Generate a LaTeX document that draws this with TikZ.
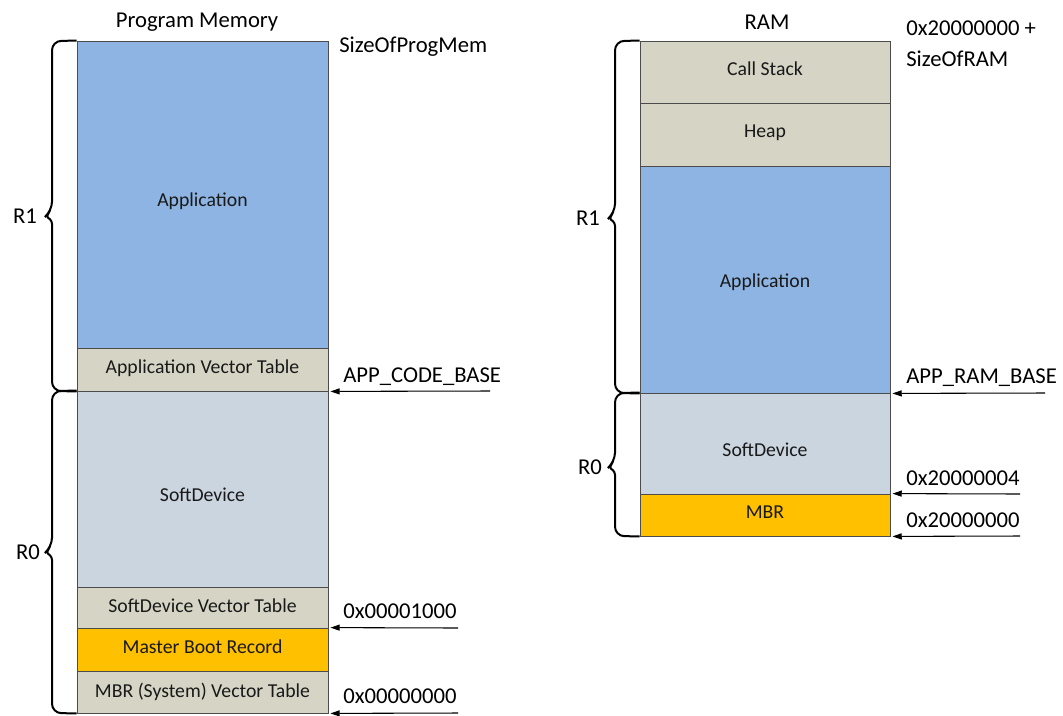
\documentclass[tikz,border=0pt]{standalone}
\usepackage{fontspec}
\setmainfont{Carlito}
\usetikzlibrary{arrows.meta,calc}
\definecolor{appblue}{HTML}{8DB4E2}
\definecolor{tan}{HTML}{D6D5C5}
\definecolor{sdgrey}{HTML}{CBD5E0}
\definecolor{mbrorange}{HTML}{FFC000}
\tikzset{
  mem/.style={draw=black!70, line width=0.6pt, inner sep=0pt},
  memtxt/.style={font=\fontsize{14.8}{16}\selectfont, text=black!90, inner sep=0pt, anchor=base},
  lbl/.style={font=\fontsize{17}{19}\selectfont, inner sep=0pt, anchor=base west},
  ttl/.style={font=\fontsize{17}{19}\selectfont, inner sep=0pt, anchor=base},
  rlab/.style={font=\fontsize{17}{19}\selectfont, inner sep=0pt},
  brace/.style={line width=1.5pt, black},
  ptr/.style={line width=0.8pt, -{Triangle[length=7pt,width=4.5pt]}},
}
% name, top, bottom, left, right, colour, text, baseline offset below centre (px)
\newcommand\mblk[8]{%
  \pgfmathsetmacro\mcy{(#2+#3)/2}%
  \pgfmathsetmacro\mhh{(#3-#2)*0.75}%
  \pgfmathsetmacro\mcx{(#4+#5)/2}%
  \pgfmathsetmacro\mww{(#5-#4)*0.75}%
  \pgfmathsetmacro\mby{\mcy+#8}%
  \node[mem, fill=#6, minimum width=\mww pt, minimum height=\mhh pt] (#1) at (\mcx,\mcy) {};%
  \node[memtxt] (#1t) at (\mcx,\mby) {#7};%
}
\begin{document}
\begin{tikzpicture}[x=0.75pt, y=-0.75pt]
\useasboundingbox (0,0) rectangle (1063,715);
% ---------- Program memory ----------
\mblk{app}{41}{348}{77}{328}{appblue}{Application}{11.5}
\mblk{avt}{348}{391}{77}{328}{tan}{Application Vector Table}{3.5}
\mblk{sd}{391}{587}{77}{328}{sdgrey}{SoftDevice}{12}
\mblk{sdvt}{587}{628}{77}{328}{tan}{SoftDevice Vector Table}{4.5}
\mblk{mbr}{628}{671}{77}{328}{mbrorange}{Master Boot Record}{3.5}
\mblk{mbrvt}{671}{713}{77}{328}{tan}{MBR (System) Vector Table}{5}
\node[ttl] (pmt) at (197,27) {Program Memory};
\node[lbl] (szp) at (339,52) {SizeOfProgMem};
\node[lbl] (acb) at (343,382) {APP\_CODE\_BASE};
\node[lbl] (a1k) at (343,618) {0x00001000};
\node[lbl] (a0) at (343,703) {0x00000000};
\coordinate (pacb) at (490,391);
\coordinate (pa1k) at (458,628);
\coordinate (pa0) at (458,713);
\draw[ptr] (pacb) -- ($(avt.south east)+(2,0)$);
\draw[ptr] (pa1k) -- ($(mbr.north east)+(2,0)$);
\draw[ptr] (pa0) -- ($(mbrvt.south east)+(2,0)$);
% braces left
\draw[brace] (app.north west) [rounded corners=7pt] -- (52,41) -- (52,211) [rounded corners=2pt] -- (46,216) -- (52,221) [rounded corners=7pt] -- (52,391) -- (avt.south west);
\draw[brace] (sd.north west) [rounded corners=7pt] -- (52,391) -- (52,547) [rounded corners=2pt] -- (46,552) -- (52,557) [rounded corners=7pt] -- (52,713) -- (mbrvt.south west);
\node[rlab] (lr1) at (25,216) {R1};
\node[rlab] (lr0) at (28,552) {R0};
% ---------- RAM ----------
\mblk{cs}{41}{103}{640}{890}{tan}{Call Stack}{3}
\mblk{heap}{103}{166}{640}{890}{tan}{Heap}{2.5}
\mblk{rapp}{166}{393}{640}{890}{appblue}{Application}{7.5}
\mblk{rsd}{393}{494}{640}{890}{sdgrey}{SoftDevice}{12.5}
\mblk{rmbr}{494}{536}{640}{890}{mbrorange}{MBR}{3}
\node[ttl] (ramt) at (767,29) {RAM};
\node[lbl] (szr1) at (906,35) {0x20000000 +};
\node[lbl] (szr2) at (906,66) {SizeOfRAM};
\node[lbl] (arb) at (906,383) {APP\_RAM\_BASE};
\node[lbl] (r4) at (906,485) {0x20000004};
\node[lbl] (r0) at (906,527) {0x20000000};
\coordinate (parb) at (1045,393);
\coordinate (pr4) at (1020,494);
\coordinate (pr0) at (1020,536);
\draw[ptr] (parb) -- ($(rapp.south east)+(2,0)$);
\draw[ptr] (pr4) -- ($(rmbr.north east)+(2,0)$);
\draw[ptr] (pr0) -- ($(rmbr.south east)+(2,0)$);
% braces right
\draw[brace] (cs.north west) [rounded corners=7pt] -- (615,41) -- (615,213) [rounded corners=2pt] -- (609,218) -- (615,223) [rounded corners=7pt] -- (615,393) -- (rapp.south west);
\draw[brace] (rsd.north west) [rounded corners=7pt] -- (615,393) -- (615,462) [rounded corners=2pt] -- (609,467) -- (615,472) [rounded corners=7pt] -- (615,536) -- (rmbr.south west);
\node[rlab] (rr1) at (588,218) {R1};
\node[rlab] (rr0) at (590,467) {R0};
\end{tikzpicture}
\end{document}
